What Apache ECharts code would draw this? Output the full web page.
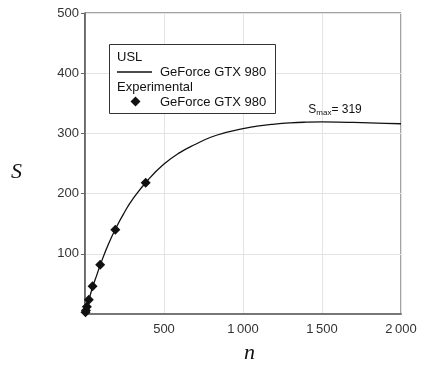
<!DOCTYPE html>
<html>
<head>
<meta charset="utf-8">
<script src="https://cdn.jsdelivr.net/npm/echarts@6/dist/echarts.min.js"></script>
<style>
  html, body { margin: 0; padding: 0; background: #fff; }
  #main { width: 427px; height: 365px; }
</style>
</head>
<body>
<div id="main"></div>
<script>
// USL curve
var uslN = [1, 25, 50, 75, 100, 150, 200, 250, 300, 400, 500, 600, 700, 800, 900, 1000,
  1100, 1200, 1300, 1400, 1500, 1600, 1700, 1800, 1900, 2000];
var uslS = [1, 24, 46, 65, 84, 117, 145, 169, 190, 223, 249, 268, 282, 294, 302, 308,
  312.5, 315.5, 317.5, 318.6, 319, 318.8, 318.2, 317.5, 316.8, 316];
// experimental measurements
var expN = [3, 6, 12, 24, 48, 96, 192, 384];
var expS = [3, 6, 12, 23.5, 46, 82, 140, 218];
var xTicks = [500, 1000, 1500, 2000];
var yTicks = [100, 200, 300, 400, 500];
var sMax = [1500, 319];

var font = "Liberation Sans";
var ink = "#111";

function pairs(xs, ys) {
  return xs.map(function (x, i) { return [x, ys[i]]; });
}

function txt(x, y, s, size, fam, style) {
  return {
    type: "text", x: x, y: y, z: 100,
    style: {
      text: s, fill: ink,
      font: (style || "") + " " + size + "px " + fam,
      verticalAlign: "middle"
    }
  };
}

var chart = echarts.init(document.getElementById("main"));
chart.setOption({
  animation: false,
  backgroundColor: "#fff",
  grid: {
    left: 85, right: 26, top: 13, bottom: 51,
    show: true, borderColor: "#444", borderWidth: 1
  },
  xAxis: {
    type: "value",
    min: 0, max: 2000, interval: 500,
    axisLine: { show: true, lineStyle: { color: "#777", width: 2 } },
    axisTick: { show: false },
    splitLine: { lineStyle: { color: "#e4e4e4", width: 1 } },
    axisLabel: {
      showMinLabel: false,
      margin: 9,
      fontFamily: font, fontSize: 13, color: "#333",
      formatter: function (v) {
        return xTicks.indexOf(v) < 0 ? "" : String(v).replace(/\B(?=(\d{3})+(?!\d))/g, "\u2009");
      }
    }
  },
  yAxis: {
    type: "value",
    min: 0, max: 500, interval: 100,
    axisLine: { show: true, lineStyle: { color: "#555", width: 1.5 } },
    axisTick: { show: true, length: 4, lineStyle: { color: "#666" } },
    splitLine: { lineStyle: { color: "#e4e4e4", width: 1 } },
    axisLabel: {
      showMinLabel: false,
      margin: 6,
      fontFamily: font, fontSize: 13, color: "#333",
      formatter: function (v) { return yTicks.indexOf(v) < 0 ? "" : String(v); }
    }
  },
  graphic: [
    // axis names
    txt(11, 172, "S", 22, "Liberation Serif", "italic"),
    txt(244, 353, "n", 22, "Liberation Serif", "italic"),
    // legend box
    {
      type: "rect", z: 99,
      shape: { x: 109.5, y: 44.5, width: 166, height: 69 },
      style: { fill: "#fff", stroke: "#333", lineWidth: 1 }
    },
    txt(117, 57, "USL", 13, font),
    { type: "line", z: 100, shape: { x1: 117, y1: 72, x2: 152, y2: 72 }, style: { stroke: ink, lineWidth: 1.4 } },
    txt(160, 72, "GeForce GTX 980", 13, font),
    txt(117, 87, "Experimental", 13, font),
    {
      type: "polygon", z: 100,
      shape: { points: [[135.5, 96.5], [140.5, 101.5], [135.5, 106.5], [130.5, 101.5]] },
      style: { fill: ink }
    },
    txt(160, 102, "GeForce GTX 980", 13, font)
  ],
  series: [
    {
      name: "USL",
      type: "line",
      data: pairs(uslN, uslS),
      smooth: true,
      symbol: "none",
      lineStyle: { color: ink, width: 1.3 },
      itemStyle: { color: ink },
      z: 3,
      markPoint: {
        symbol: "circle",
        symbolSize: 0,
        data: [{ coord: sMax }],
        label: {
          show: true,
          position: "top",
          offset: [13, 0],
          color: ink,
          fontFamily: font,
          formatter: "{s|S}{m|max}{s|= " + sMax[1] + "}",
          rich: {
            s: { fontSize: 12, fontFamily: font, color: ink, lineHeight: 14 },
            m: { fontSize: 8, fontFamily: font, color: ink, lineHeight: 8, verticalAlign: "bottom" }
          }
        }
      }
    },
    {
      name: "Experimental",
      type: "scatter",
      data: pairs(expN, expS),
      symbol: "diamond",
      symbolSize: 10,
      itemStyle: { color: ink, opacity: 1 },
      z: 4
    }
  ]
});
</script>
</body>
</html>
